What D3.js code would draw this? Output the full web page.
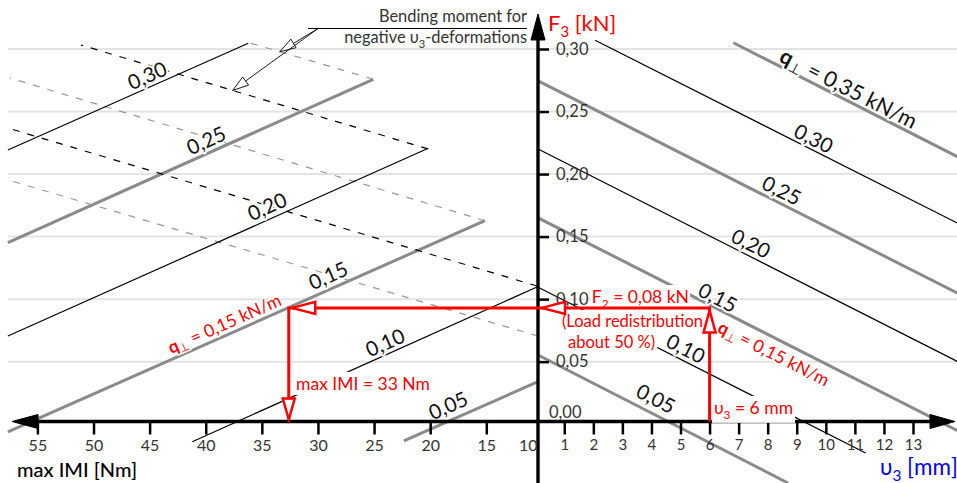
<!DOCTYPE html>
<html><head><meta charset="utf-8">
<script src="https://cdn.jsdelivr.net/npm/d3@7"></script>
<style>body{margin:0;background:#fff} svg{display:block;font-family:Lato,'Open Sans',sans-serif}</style>
</head><body><svg id="c" width="957" height="483"></svg>
<script>
// ---------- DATA ----------
const fTicks = [0.05, 0.10, 0.15, 0.20, 0.25, 0.30];            // F3 [kN]
const mTicks = [10, 15, 20, 25, 30, 35, 40, 45, 50, 55];         // max |M| [Nm]
const uTicks = [1, 2, 3, 4, 5, 6, 7, 8, 9, 10, 11, 12, 13];      // u3 [mm]

// left panel: moment lines (positive u3), [M, F3] at both ends
const leftQ     = [0.05, 0.10, 0.15, 0.20, 0.25, 0.30];
const leftStart = [[22.34, -0.0134], [41.2, -0.014], [57.63, -0.0062], [57.63, 0.0705], [57.63, 0.1451], [57.63, 0.2193]];
const leftEnd   = [[10.39, 0.034], [10.48, 0.1097], [15.12, 0.1627], [20.17, 0.2206], [25.07, 0.2758], [36.21, 0.3046]];
const leftLabel = [[18.41, 0.0154], [24.03, 0.0657], [29.11, 0.1193], [34.55, 0.1745], [39.98, 0.2273], [45.23, 0.2792]];

// left panel: moment lines for negative u3-deformations (dashed)
const dashQ     = [0.05, 0.10, 0.15, 0.20, 0.25];
const dashStart = [[10.39, 0.0705], [10.48, 0.1105], [15.12, 0.1627], [20.2, 0.2201], [25.1, 0.276]];
const dashEnd   = [[57.63, 0.1953], [57.63, 0.2368], [57.45, 0.2768], [51.12, 0.3032], [36.06, 0.3048]];

// right panel: F3 vs u3 lines, [u3, F3] at both ends
const rightQ     = [0.05, 0.10, 0.15, 0.20, 0.25, 0.30, 0.35];
const rightStart = [[0.1, 0.0553], [0.1, 0.1095], [0.1, 0.165], [0.1, 0.220], [0.1, 0.2745], [2.06, 0.307], [6.82, 0.305]];
const rightEnd   = [[8.7, -0.047], [11.37, -0.023], [14.6, -0.006], [14.6, 0.0493], [14.6, 0.104], [14.6, 0.160], [14.6, 0.213]];
const rightLabel = [[4.16, 0.0209], [5.19, 0.0609], [6.29, 0.1017], [7.43, 0.1449], [8.49, 0.1873], [9.59, 0.2289], [10.79, 0.2688]];

// worked example (red construction)
const exQ = 0.15, exU3 = 6, exF = 0.093, exM = 32.6;
// leader targets (M on dashed lines q=0.25 and q=0.20)
const leaderQ = [0.25, 0.20], leaderM = [33.4, 37.6];

// ---------- SETUP ----------
const W = 957, H = 483;
const svg = d3.select("#c");
const axisY = 421.5, axisX = 538;
const xM = d3.scaleLinear().domain([10, 55]).range([542.4, 37.4]);
const xU = d3.scaleLinear().domain([0, 13]).range([535.2, 913]);
const yF = d3.scaleLinear().domain([0, 0.30]).range([424.2, 49]);
const fmt = v => d3.format(".2f")(v).replace(".", ",");
const isGray = q => Math.round(q * 100) % 10 === 5;
const GRAY = "#8a8a8a";

function richText(g, x, y, parts, fs, attrs) {
  const t = g.append("text").attr("x", x).attr("y", y).attr("font-size", fs);
  Object.entries(attrs || {}).forEach(([k, v]) => t.attr(k, v));
  let shifted = false;
  parts.forEach(([s, kind]) => {
    const ts = t.append("tspan").text(s);
    if (kind === "sub") { ts.attr("font-size", fs * 0.68).attr("dy", fs * 0.28); shifted = true; }
    else { if (shifted) { ts.attr("dy", -fs * 0.28); shifted = false; } if (kind === "b") ts.attr("font-weight", "bold"); }
  });
  return t;
}
function head(g, tip, dir, len, hw, fill, stroke, sw) {
  const n = Math.hypot(dir[0], dir[1]), dx = dir[0] / n, dy = dir[1] / n;
  const bx = tip[0] - dx * len, by = tip[1] - dy * len, px = -dy, py = dx;
  g.append("path").attr("d", `M${tip[0]},${tip[1]}L${bx + px * hw},${by + py * hw}L${bx - px * hw},${by - py * hw}Z`)
    .attr("fill", fill).attr("stroke", stroke).attr("stroke-width", sw).attr("stroke-linejoin", "miter");
}
function withBg(g, textSel, pad) {
  const b = textSel.node().getBBox();
  g.insert("rect", () => textSel.node()).attr("x", b.x - pad).attr("y", b.y - 1).attr("width", b.width + 2 * pad).attr("height", b.height + 2).attr("fill", "#fff");
}

// ---------- GRID ----------
svg.append("g").selectAll("line").data(fTicks).join("line")
  .attr("x1", 8).attr("x2", W).attr("y1", d => yF(d)).attr("y2", d => yF(d))
  .attr("stroke", "#e3e3e3").attr("stroke-width", 2);

// ---------- LINES ----------
const leftData = leftQ.map((q, i) => ({ q, a: [xM(leftStart[i][0]), yF(leftStart[i][1])], b: [xM(leftEnd[i][0]), yF(leftEnd[i][1])], l: [xM(leftLabel[i][0]), yF(leftLabel[i][1])] }));
const dashData = dashQ.map((q, i) => ({ q, a: [xM(dashStart[i][0]), yF(dashStart[i][1])], b: [xM(dashEnd[i][0]), yF(dashEnd[i][1])] }));
const rightData = rightQ.map((q, i) => ({ q, a: [xU(rightStart[i][0]), yF(rightStart[i][1])], b: [xU(rightEnd[i][0]), yF(rightEnd[i][1])], l: [xU(rightLabel[i][0]), yF(rightLabel[i][1])] }));
const solid = leftData.concat(rightData);

const gl = svg.append("g");
gl.selectAll("line.g").data(solid.filter(d => isGray(d.q))).join("line").attr("class", "g")
  .attr("x1", d => d.a[0]).attr("y1", d => d.a[1]).attr("x2", d => d.b[0]).attr("y2", d => d.b[1])
  .attr("stroke", GRAY).attr("stroke-width", 3);
gl.selectAll("line.gd").data(dashData.filter(d => isGray(d.q))).join("line").attr("class", "gd")
  .attr("x1", d => d.a[0]).attr("y1", d => d.a[1]).attr("x2", d => d.b[0]).attr("y2", d => d.b[1])
  .attr("stroke", "#999").attr("stroke-width", 1.2).attr("stroke-dasharray", "7,8");
gl.selectAll("line.bd").data(dashData.filter(d => !isGray(d.q))).join("line").attr("class", "bd")
  .attr("x1", d => d.a[0]).attr("y1", d => d.a[1]).attr("x2", d => d.b[0]).attr("y2", d => d.b[1])
  .attr("stroke", "#000").attr("stroke-width", 1.2).attr("stroke-dasharray", "7,8");
gl.selectAll("line.b").data(solid.filter(d => !isGray(d.q))).join("line").attr("class", "b")
  .attr("x1", d => d.a[0]).attr("y1", d => d.a[1]).attr("x2", d => d.b[0]).attr("y2", d => d.b[1])
  .attr("stroke", "#000").attr("stroke-width", 1.2);

// ---------- LINE LABELS ----------
const glab = svg.append("g");
solid.forEach(d => {
  const ang = Math.atan2(d.b[1] - d.a[1], d.b[0] - d.a[0]) * 180 / Math.PI;
  const a = ang > 90 ? ang - 180 : (ang < -90 ? ang + 180 : ang);
  const g = glab.append("g").attr("transform", `translate(${d.l[0]},${d.l[1]}) rotate(${a})`);
  const parts = d.q === 0.35 ? [["q", "b"], ["⊥", "sub"], [" = " + fmt(d.q) + " kN/m", ""]] : [[fmt(d.q), ""]];
  richText(g, 0, 0, parts, d.q === 0.35 ? 21.5 : 20.5, { "text-anchor": "middle", "dominant-baseline": "central", fill: "#111",
    stroke: "#fff", "stroke-width": 4, "paint-order": "stroke", "stroke-linejoin": "round" });
});

// ---------- AXES ----------
const ga = svg.append("g");
ga.append("line").attr("x1", 30).attr("x2", 935).attr("y1", axisY).attr("y2", axisY).attr("stroke", "#000").attr("stroke-width", 3.4);
head(ga, [12, axisY], [-1, 0], 26, 7, "#000", "#000", 1);
head(ga, [955, axisY], [1, 0], 25, 7, "#000", "#000", 1);
ga.append("line").attr("x1", axisX).attr("x2", axisX).attr("y1", H).attr("y2", 36).attr("stroke", "#000").attr("stroke-width", 3.4);
head(ga, [axisX, 14], [0, -1], 26, 7, "#000", "#000", 1);

const styleAxis = (g, fs) => {
  g.select(".domain").remove();
  g.selectAll(".tick line").attr("stroke", "#000").attr("stroke-width", 2.5);
  g.selectAll(".tick text").attr("fill", "#333").attr("font-size", fs).attr("font-family", "Lato,'Open Sans',sans-serif");
};
const gm = ga.append("g").attr("transform", `translate(0,${axisY})`)
  .call(d3.axisBottom(xM).tickValues(mTicks).tickSize(13).tickPadding(5).tickFormat(d3.format("d")));
styleAxis(gm, 16);
gm.selectAll(".tick").filter(d => d === 10).select("line").remove();
gm.selectAll(".tick").filter(d => d === 10).select("text").attr("text-anchor", "end").attr("x", axisX - xM(10) - 1);

const gu = ga.append("g").attr("transform", `translate(0,${axisY})`)
  .call(d3.axisBottom(xU).tickValues(uTicks).tickSize(13).tickPadding(5).tickFormat(d3.format("d")));
styleAxis(gu, 15);

const gf = ga.append("g").attr("transform", `translate(${axisX},0)`)
  .call(d3.axisRight(yF).tickValues(fTicks).tickSize(11).tickPadding(7).tickFormat(fmt));
styleAxis(gf, 16.5);
ga.append("text").attr("x", axisX + 11).attr("y", yF(0) - 12).attr("dominant-baseline", "central")
  .attr("font-size", 16.5).attr("fill", "#333").text(fmt(0));

richText(ga, 548, 31, [["F", ""], ["3", "sub"], [" [kN]", ""]], 22, { fill: "#ff0000" });
richText(ga, 880, 475, [["υ", ""], ["3", "sub"], [" [mm]", ""]], 22.5, { fill: "#0000ff" });
ga.append("text").attr("x", 17).attr("y", 477).attr("font-size", 20).attr("font-weight", 500).attr("fill", "#000").text("max IMI [Nm]");

// ---------- TOP ANNOTATION ----------
const gt = svg.append("g");
gt.append("text").attr("x", 527).attr("y", 22).attr("text-anchor", "end").attr("font-size", 16.4).attr("fill", "#333").text("Bending moment for");
richText(gt, 527, 43, [["negative υ", ""], ["3", "sub"], ["-deformations", ""]], 16.4, { "text-anchor": "end", fill: "#333" });
gt.append("line").attr("x1", 308).attr("x2", 527).attr("y1", 28.5).attr("y2", 28.5).attr("stroke", "#000").attr("stroke-width", 1.2);
leaderQ.forEach((q, i) => {
  const d = dashData[dashQ.indexOf(q)];
  const t = (xM(leaderM[i]) - d.a[0]) / (d.b[0] - d.a[0]);
  const tip = [d.a[0] + t * (d.b[0] - d.a[0]), d.a[1] + t * (d.b[1] - d.a[1])];
  const st = [318, 28.5];
  gt.append("line").attr("x1", st[0]).attr("y1", st[1]).attr("x2", tip[0]).attr("y2", tip[1]).attr("stroke", "#000").attr("stroke-width", 0.9);
  head(gt, tip, [tip[0] - st[0], tip[1] - st[1]], 16, 5, "#fff", "#000", 0.9);
});

// ---------- RED CONSTRUCTION ----------
const RED = "#ff0000";
const gr = svg.append("g");
const txtAttrs = { fill: RED };
const t1 = richText(gr, xU(1.95), yF(0.0969), [["F", ""], ["2", "sub"], [" = 0,08 kN", ""]], 17.5, txtAttrs); withBg(gr, t1, 1);
const t2 = richText(gr, xU(0.92), yF(0.0777), [["(Load redistribution", ""]], 16.5, txtAttrs); withBg(gr, t2, 2);
const t3 = richText(gr, xU(1.13), yF(0.0609), [["about 50 %)", ""]], 16.5, txtAttrs); withBg(gr, t3, 2);
const t4 = richText(gr, xU(6.15), yF(0.0082), [["υ", ""], ["3", "sub"], [" = 6 mm", ""]], 17.5, txtAttrs); withBg(gr, t4, 2);
const t5 = richText(gr, xM(31.95), yF(0.0274), [["max IMI = 33 Nm", ""]], 17.5, txtAttrs); withBg(gr, t5, 2);

const lq = leftData[leftQ.indexOf(exQ)], rq = rightData[rightQ.indexOf(exQ)];
[[lq, [xM(38.36), yF(0.0809)]], [rq, [xU(8.22), yF(0.057)]]].forEach(([d, p]) => {
  const a = Math.atan2(d.b[1] - d.a[1], d.b[0] - d.a[0]) * 180 / Math.PI;
  const g = gr.append("g").attr("transform", `translate(${p[0]},${p[1]}) rotate(${a})`);
  richText(g, 0, 0, [["q", "b"], ["⊥", "sub"], [" = 0,15 kN/m", ""]], 17.5, { "text-anchor": "middle", "dominant-baseline": "central", fill: RED,
    stroke: "#fff", "stroke-width": 3, "paint-order": "stroke" });
});

const X6 = xU(exU3), YF = yF(exF), XMx = xM(exM);
const path = `M${X6},${axisY}L${X6},${YF}L${XMx},${YF}L${XMx},${axisY - 2}`;
gr.append("path").attr("d", path).attr("fill", "none").attr("stroke", RED).attr("stroke-width", 3);
head(gr, [X6, YF + 2.5], [0, -1], 22, 6, "#fff", RED, 2.5);
head(gr, [axisX + 4, YF], [-1, 0], 23, 6, "#fff", RED, 2.5);
head(gr, [XMx + 3.5, YF], [-1, 0], 23, 6, "#fff", RED, 2.5);
head(gr, [XMx, axisY - 2], [0, 1], 21, 6, "#fff", RED, 2.5);
</script></body></html>
